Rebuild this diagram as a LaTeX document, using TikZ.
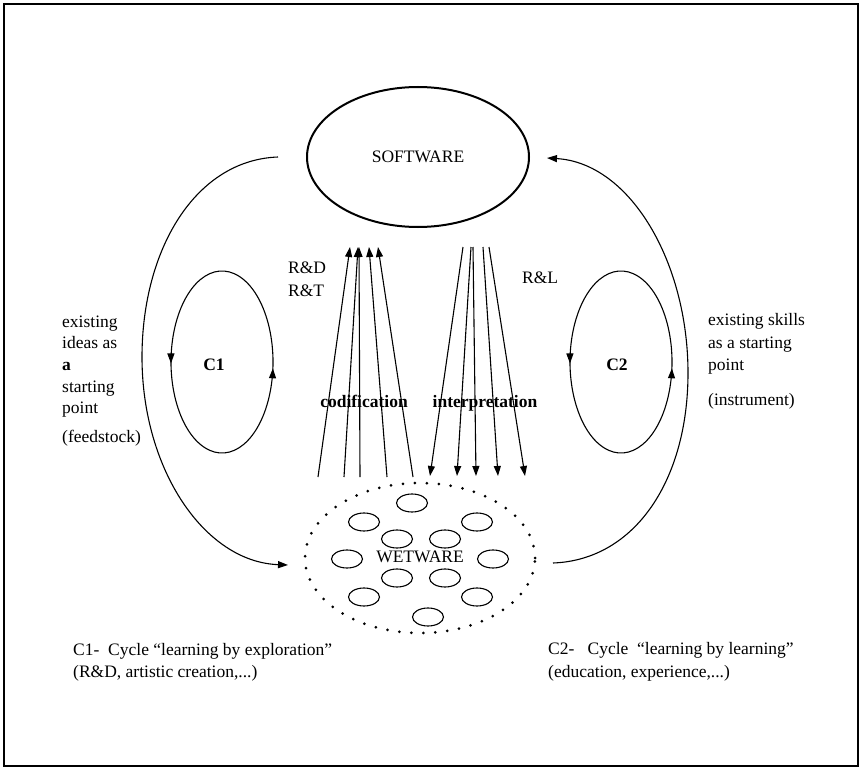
\documentclass[tikz,border=0pt]{standalone}
\usepackage{fontspec}
\setmainfont{Liberation Serif}
\usetikzlibrary{arrows.meta,shapes.geometric,decorations.markings}
\begin{document}
\begin{tikzpicture}[x=1pt,y=-1pt,
  lw/.style={line width=1.1pt},
  tip/.style={lw,-{Triangle[length=10pt,width=7pt]}},
  lbl/.style={font=\fontsize{17.5}{22}\selectfont, inner sep=0pt},
  blbl/.style={font=\fontsize{17.5}{22}\selectfont\bfseries, inner sep=0pt},
  blob/.style={draw, ellipse, lw, minimum width=31pt, minimum height=18pt, inner sep=0pt},
  cyclemarks/.style={lw, postaction={decorate}, decoration={markings,
      mark=at position 0.055 with {\arrow{Triangle[length=10pt,width=7pt]}},
      mark=at position 0.572 with {\arrow{Triangle[length=10pt,width=7pt]}}}}
]
\useasboundingbox (0,0) rectangle (860,768);
\draw[line width=1.6pt] (4,4) rectangle (858,766);

% main nodes
\node[draw, ellipse, line width=2pt, minimum width=222pt, minimum height=140pt, lbl] (sw) at (418,157) {SOFTWARE};
\node[ellipse, line width=3pt, line cap=round, dash pattern=on 0pt off 12pt, draw,
      minimum width=230pt, minimum height=150pt] (ww) at (420,558) {};

% small ellipses inside wetware
\node[blob] (b1) at (412,503) {};
\node[blob] (b2) at (364,522) {};
\node[blob] (b3) at (477,522) {};
\node[blob] (b4) at (397,539) {};
\node[blob] (b5) at (445,539) {};
\node[blob] (b6) at (347,559) {};
\node[blob] (b7) at (493,559) {};
\node[blob] (b8) at (397,578) {};
\node[blob] (b9) at (445,578) {};
\node[blob] (b10) at (364,597) {};
\node[blob] (b11) at (477,597) {};
\node[blob] (b12) at (428,617) {};
\node[lbl] (wwt) at (420,557) {WETWARE};

% outer cycle arcs
\coordinate (la) at (278,157);
\coordinate (lm) at (142,357);
\coordinate (lb) at (288,565);
\draw[tip] (la) .. controls (195,160) and (142,250) .. (lm)
               .. controls (142,470) and (205,562) .. (lb);
\coordinate (ra) at (553,563);
\coordinate (rm) at (688,373);
\coordinate (rb) at (547,158);
\draw[tip] (ra) .. controls (635,560) and (688,480) .. (rm)
               .. controls (688,262) and (630,163) .. (rb);

% inner cycles
\draw[cyclemarks] (222,362) ++(-20:51pt and 91pt) arc[start angle=-20, end angle=340, x radius=51pt, y radius=91pt];
\draw[cyclemarks] (621,362) ++(-20:51pt and 91pt) arc[start angle=-20, end angle=340, x radius=51pt, y radius=91pt];
\node[blbl] (c1) at (214,365) {C1};
\node[blbl] (c2) at (617,365) {C2};

% codification arrows
\coordinate (cb1) at (318,477); \coordinate (ct1) at (350,247);
\coordinate (cb2) at (344,477); \coordinate (ct2) at (358,247);
\coordinate (cb3) at (360,477); \coordinate (ct3) at (359,247);
\coordinate (cb4) at (387,477); \coordinate (ct4) at (369,247);
\coordinate (cb5) at (413,477); \coordinate (ct5) at (378,247);
\foreach \i in {1,...,5} { \draw[tip] (cb\i) -- (ct\i); }

% interpretation arrows
\coordinate (it1) at (463,247); \coordinate (ib1) at (430,476);
\coordinate (it2) at (471,247); \coordinate (ib2) at (457,476);
\coordinate (it3) at (473,247); \coordinate (ib3) at (476,476);
\coordinate (it4) at (483,247); \coordinate (ib4) at (498,476);
\coordinate (it5) at (489,247); \coordinate (ib5) at (525,476);
\foreach \i in {1,...,5} { \draw[tip] (it\i) -- (ib\i); }

\node[blbl, anchor=base] (cod) at (364,407) {codification};
\node[blbl, anchor=base] (int) at (485,407) {interpretation};

% R labels
\node[lbl, anchor=base west] (rd) at (288,273) {R\&D};
\node[lbl, anchor=base west] (rt) at (288,296) {R\&T};
\node[lbl, anchor=base west] (rl) at (522,283) {R\&L};

% left text
\node[lbl, anchor=base west] (l1) at (62,327) {existing};
\node[lbl, anchor=base west] (l2) at (62,348) {ideas as};
\node[blbl, anchor=base west] (l3) at (62,370) {a};
\node[lbl, anchor=base west] (l4) at (62,392) {starting};
\node[lbl, anchor=base west] (l5) at (62,413) {point};
\node[lbl, anchor=base west] (l6) at (62,442) {(feedstock)};

% right text
\node[lbl, anchor=base west] (r1) at (708,325) {existing skills};
\node[lbl, anchor=base west] (r2) at (708,348) {as a starting};
\node[lbl, anchor=base west] (r3) at (708,370) {point};
\node[lbl, anchor=base west] (r4) at (708,405) {(instrument)};

% bottom captions
\node[lbl, anchor=base west] (bc1) at (73,655) {C1-\ \ Cycle “learning by exploration”};
\node[lbl, anchor=base west] (bc2) at (73,677) {(R\&D, artistic creation,...)};
\node[lbl, anchor=base west] (bc3) at (548,654) {C2-\ \ \ Cycle\ \ “learning by learning”};
\node[lbl, anchor=base west] (bc4) at (548,677) {(education, experience,...)};
\end{tikzpicture}
\end{document}
